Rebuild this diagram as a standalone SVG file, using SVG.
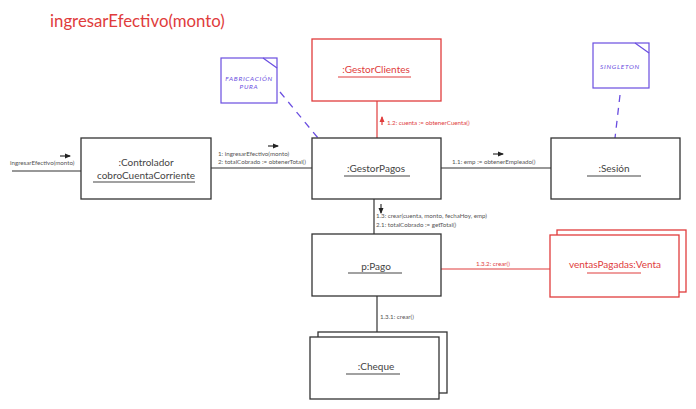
<svg xmlns="http://www.w3.org/2000/svg" width="696" height="409" viewBox="0 0 696 409">
<defs>
<style>
.box{fill:#fff;stroke:#333;stroke-width:1.3}
.rbox{fill:#fff;stroke:#e03c3c;stroke-width:1.3}
.lbl{font-family:Lato,"Open Sans",sans-serif;font-size:10px;fill:#444;text-anchor:middle}
.rlbl{font-family:Lato,"Open Sans",sans-serif;font-size:10px;fill:#e03c3c;text-anchor:middle}
.ul{stroke:#444;stroke-width:1.2}
.rul{stroke:#e03c3c;stroke-width:1.2}
.msg{font-family:Lato,"Open Sans",sans-serif;font-size:6.2px;fill:#555}
.rmsg{font-family:Lato,"Open Sans",sans-serif;font-size:6.2px;fill:#e03c3c}
.line{stroke:#333;stroke-width:1.2;fill:none}
.rline{stroke:#e03c3c;stroke-width:1.2;fill:none}
.note{fill:#fff;stroke:#6a4ee0;stroke-width:1.2}
.ntxt{font-family:Lato,"Open Sans",sans-serif;font-size:6.5px;font-style:italic;fill:#6a4ee0;text-anchor:middle;letter-spacing:0.7px}
.dash{stroke:#6a4ee0;stroke-width:1.3;stroke-dasharray:7,6;fill:none}
</style>
<marker id="ah" markerWidth="6" markerHeight="6" refX="5" refY="3" orient="auto" markerUnits="userSpaceOnUse"><path d="M0,0.5 L6,3 L0,5.5 Z" fill="#222"/></marker>
<marker id="ahr" markerWidth="6" markerHeight="6" refX="5" refY="3" orient="auto" markerUnits="userSpaceOnUse"><path d="M0,0.5 L6,3 L0,5.5 Z" fill="#e03c3c"/></marker>
</defs>
<rect width="696" height="409" fill="#fff"/>
<text x="50" y="27" font-family="Lato,'Open Sans',sans-serif" font-size="16.8" fill="#e03c3c">ingresarEfectivo(monto)</text>

<g id="connectors">
<line class="line" x1="12" y1="171" x2="81" y2="171"/>
<line class="line" x1="60" y1="156" x2="70" y2="156" stroke-width="1.5" marker-end="url(#ah)"/>
<text class="msg" x="10" y="165">ingresarEfectivo(monto)</text>

<line class="line" x1="211" y1="168" x2="312" y2="168"/>
<line class="line" x1="268" y1="146" x2="278" y2="146" stroke-width="1.5" marker-end="url(#ah)"/>
<text class="msg" x="218" y="156">1: ingresarEfectivo(monto)</text>
<text class="msg" x="218" y="164">2: totalCobrado := obtenerTotal()</text>

<line class="rline" x1="377" y1="101" x2="377" y2="138"/>
<line class="rline" x1="382" y1="125" x2="382" y2="117" stroke-width="1.5" marker-end="url(#ahr)"/>
<text class="rmsg" x="387" y="125">1.2: cuenta := obtenerCuenta()</text>

<line class="line" x1="441" y1="168" x2="551" y2="168"/>
<line class="line" x1="493" y1="154" x2="503" y2="154" stroke-width="1.5" marker-end="url(#ah)"/>
<text class="msg" x="452" y="164">1.1: emp := obtenerEmpleado()</text>

<line class="line" x1="374" y1="199" x2="374" y2="234"/>
<line class="line" x1="381" y1="204" x2="381" y2="213" stroke-width="1.5" marker-end="url(#ah)"/>
<text class="msg" x="376" y="218">1.3: crear(cuenta, monto, fechaHoy, emp)</text>
<text class="msg" x="376" y="227">2.1: totalCobrado := getTotal()</text>

<line class="rline" x1="441" y1="269" x2="550" y2="269"/>
<text class="rmsg" x="476" y="266">1.3.2: crear()</text>

<line class="line" x1="377" y1="296" x2="377" y2="332"/>
<text class="msg" x="380" y="319">1.3.1: crear()</text>

<line class="dash" x1="280" y1="92" x2="318" y2="138"/>
<line class="dash" x1="620" y1="95" x2="615" y2="138"/>
</g>

<g id="controlador">
<rect class="box" x="81" y="138" width="130" height="61"/>
<text class="lbl" x="146" y="166">:Controlador</text>
<text class="lbl" x="146" y="179">cobroCuentaCorriente</text>
<line class="ul" x1="93" y1="182" x2="195" y2="182"/>
</g>

<g id="gestorPagos">
<rect class="box" x="312" y="138" width="129" height="61"/>
<text class="lbl" x="376" y="172">:GestorPagos</text>
<line class="ul" x1="344" y1="176" x2="410" y2="176"/>
</g>

<g id="gestorClientes">
<rect class="rbox" x="312" y="39" width="129" height="62"/>
<text class="rlbl" x="376" y="73">:GestorClientes</text>
<line class="rul" x1="338" y1="77" x2="411" y2="77"/>
</g>

<g id="sesion">
<rect class="box" x="551" y="138" width="129" height="61"/>
<text class="lbl" x="614" y="172">:Sesión</text>
<line class="ul" x1="587" y1="176" x2="641" y2="176"/>
</g>

<g id="pago">
<rect class="box" x="312" y="234" width="129" height="62"/>
<text class="lbl" x="376" y="270">p:Pago</text>
<line class="ul" x1="348" y1="273" x2="402" y2="273"/>
</g>

<g id="venta">
<rect class="rbox" x="557" y="230" width="129" height="62"/>
<rect class="rbox" x="550" y="235" width="129" height="62"/>
<text class="rlbl" x="615" y="268">ventasPagadas:Venta</text>
<line class="rul" x1="587" y1="273" x2="641" y2="273"/>
</g>

<g id="cheque">
<rect class="box" x="318" y="332" width="129" height="61"/>
<rect class="box" x="310" y="337" width="129" height="62"/>
<text class="lbl" x="376" y="370">:Cheque</text>
<line class="ul" x1="346" y1="374" x2="400" y2="374"/>
</g>

<g id="notaFabricacion">
<rect class="note" x="221" y="58" width="56" height="45"/>
<line class="note" x1="263" y1="58" x2="277" y2="68"/>
<text class="ntxt" x="249" y="81">FABRICACIÓN</text>
<text class="ntxt" x="249" y="89">PURA</text>
</g>

<g id="notaSingleton">
<rect class="note" x="593" y="43" width="56" height="45"/>
<line class="note" x1="635" y1="43" x2="649" y2="53"/>
<text class="ntxt" x="620" y="69">SINGLETON</text>
</g>
</svg>
